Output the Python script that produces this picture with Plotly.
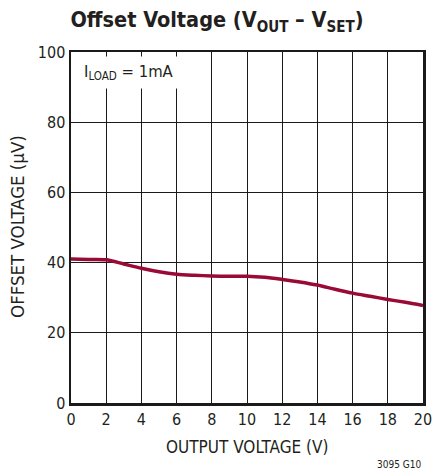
import plotly.graph_objects as go

output_voltage = [0, 1, 2, 3, 4, 5, 6, 7, 8, 9, 10, 11, 12, 13, 14, 15, 16, 17, 18, 19, 20]
offset_uv = [41.0, 40.9, 40.8, 39.6, 38.4, 37.4, 36.7, 36.4, 36.2, 36.1, 36.1, 35.8, 35.2, 34.5, 33.6, 32.4, 31.3, 30.4, 29.5, 28.7, 27.8]

x_ticks = [0, 2, 4, 6, 8, 10, 12, 14, 16, 18, 20]
y_ticks = [0, 20, 40, 60, 80, 100]

FONT = "DejaVu Sans Condensed, Liberation Sans Narrow, sans-serif"
TXT = "#231f20"

fig = go.Figure()
fig.add_trace(go.Scatter(
    x=output_voltage, y=offset_uv, mode="lines",
    line=dict(color="#9a0a36", width=3.5, shape="spline", smoothing=0.8),
    hoverinfo="skip", showlegend=False,
))

fig.update_layout(
    width=434, height=476,
    margin=dict(l=71, r=11, t=52, b=73, autoexpand=False),
    paper_bgcolor="white", plot_bgcolor="white",
    font=dict(family=FONT, size=16, color=TXT),
    title=dict(
        text="<b>Offset Voltage (V<sub>OUT</sub> – V<sub>SET</sub>)</b>",
        x=0.5, xanchor="center", y=0.959, yanchor="middle",
        font=dict(family=FONT, size=21.5, color=TXT),
    ),
    xaxis=dict(
        range=[0, 20], tickvals=x_ticks, ticks="", showgrid=True,
        gridcolor="#1a1a1a", gridwidth=1, showline=True, linecolor="#1a1a1a",
        linewidth=2.5, mirror=True, zeroline=False, automargin=False,
        tickfont=dict(size=16),
    ),
    yaxis=dict(
        range=[0, 100], tickvals=y_ticks, ticks="", showgrid=True,
        gridcolor="#1a1a1a", gridwidth=1, showline=True, linecolor="#1a1a1a",
        linewidth=2.5, mirror=True, zeroline=False, automargin=False,
        tickfont=dict(size=16),
    ),
)

fig.add_annotation(
    xref="paper", yref="paper", x=0.5, y=-0.1245, xanchor="center", yanchor="middle",
    text="OUTPUT VOLTAGE (V)", showarrow=False,
    font=dict(family=FONT, size=17, color=TXT),
)
fig.add_annotation(
    xref="paper", yref="paper", x=-0.152, y=0.503, xanchor="center", yanchor="middle",
    text="OFFSET VOLTAGE (µV)", showarrow=False, textangle=-90,
    font=dict(family=FONT, size=18.5, color=TXT),
)

fig.add_annotation(
    xref="x", yref="y", x=0.4, y=94.3, xanchor="left", yanchor="middle",
    text="I<sub>LOAD</sub> = 1mA", showarrow=False,
    font=dict(family=FONT, size=16.5, color=TXT),
    bgcolor="white", borderpad=5,
)

fig.add_annotation(
    xref="paper", yref="paper", x=1.0, y=-0.1766, xanchor="right", yanchor="middle",
    text="3095 G10", showarrow=False,
    font=dict(family=FONT, size=10, color=TXT),
)

fig.write_html(
    "out.html",
    config={"displayModeBar": False, "staticPlot": True},
    post_script="document.body.style.margin='0';document.body.style.overflow='hidden';",
)
